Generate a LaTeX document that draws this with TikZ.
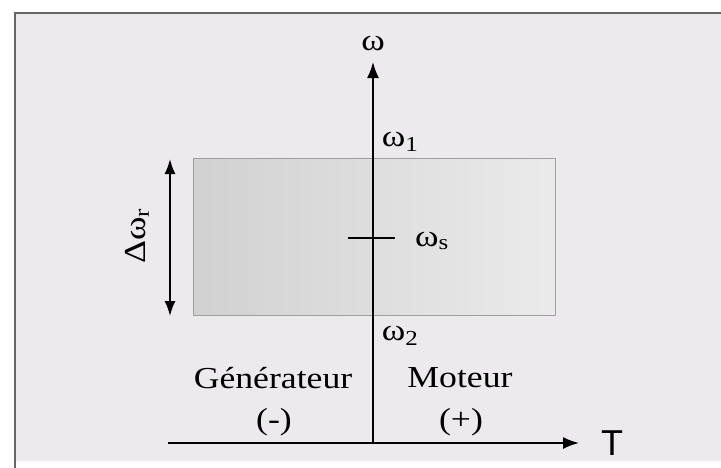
\documentclass[tikz,border=0pt]{standalone}
\usepackage{fontspec}
\setmainfont{Liberation Serif}[FakeStretch=1.17]
\newfontfamily\axisfont{Liberation Sans}
\usetikzlibrary{arrows.meta}

\definecolor{panel}{RGB}{236,234,236}

\begin{document}
\begin{tikzpicture}[x=1pt, y=-1pt,
    lbl/.style={inner sep=0pt, font=\fontsize{30.5}{34}\selectfont},
    axis/.style={line width=1.8pt, -{Latex[length=16pt,width=12pt]}},
    zone/.style={draw=gray!75, line width=0.9pt, left color=black!18, right color=black!8}
]
    \clip (0,0) rectangle (721,467);
    \fill[white] (0,0) rectangle (721,467);
    \fill[panel] (15,13) rectangle (740,461);
    \draw[black!60, line width=1.6pt] (15,475) -- (15,13) -- (740,13);

    \node[zone, minimum width=362pt, minimum height=157pt, inner sep=0pt] (band) at (374,236.5) {};

    \coordinate (origin) at (373,443);
    \coordinate (wtip) at (373,62);
    \coordinate (tstart) at (168,443);
    \coordinate (ttip) at (579,443);
    \coordinate (tickl) at (348,238);
    \coordinate (tickr) at (395,238);
    \coordinate (dtop) at (170,159);
    \coordinate (dbot) at (170,316);

    \node[lbl] (w) at (373,43) {ω};
    \node[lbl] (w1) at (400,142) {ω\textsubscript{1}};
    \node[lbl] (ws) at (432,241) {ω\textsubscript{s}};
    \node[lbl] (w2) at (400,336) {ω\textsubscript{2}};
    \node[lbl, rotate=90] (dwr) at (137,236) {Δω\textsubscript{r}};
    \node[lbl] (gen) at (273,378) {Générateur};
    \node[lbl] (mot) at (460,378) {Moteur};
    \node[lbl] (minus) at (274,422) {(-)};
    \node[lbl] (plus) at (461,422) {(+)};
    \node[inner sep=0pt, font=\axisfont\fontsize{36}{40}\selectfont] (T) at (612,443) {T};

    \draw[axis] (tstart) -- (ttip);
    \draw[axis] (origin) -- (wtip);
    \draw[line width=1.8pt] (tickl) -- (tickr);
    \draw[line width=1.8pt, {Latex[length=15pt,width=11pt]}-{Latex[length=15pt,width=11pt]}] (dtop) -- (dbot);
\end{tikzpicture}
\end{document}
